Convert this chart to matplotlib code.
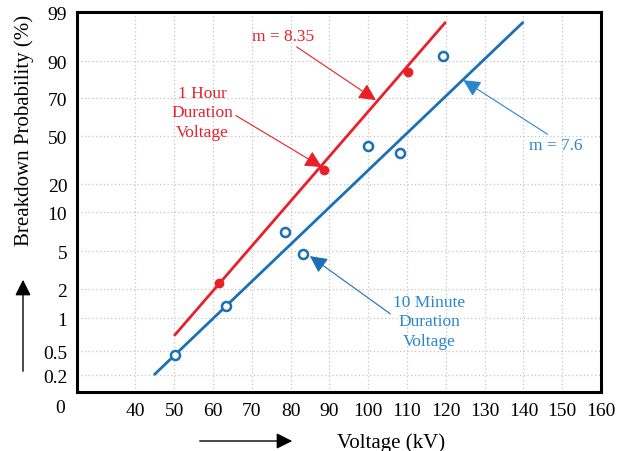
import numpy as np
import matplotlib
matplotlib.use('Agg')
import matplotlib.pyplot as plt

# probability paper: tick value -> position
prob_ticks = [0, 0.2, 0.5, 1, 2, 5, 10, 20, 50, 70, 90, 99]
prob_pos = [0, 32, 56, 89, 118, 156, 195, 223, 271, 309, 346, 395]

volt_ticks = [40, 50, 60, 70, 80, 90, 100, 110, 120, 130, 140, 150, 160]

# 1 hour duration (filled red)
hour_v = [61.6, 88.7, 110.3]
hour_p = [2.45, 28.5, 84]
hour_fit_v = [50, 120]
hour_fit_p = [0.73, 97.2]

# 10 minute duration (open blue)
min_v = [50.3, 63.4, 78.6, 83.2, 100, 108.2, 119.3]
min_p = [0.45, 1.41, 7.4, 4.8, 43.5, 39.4, 90.9]
min_fit_v = [44.8, 140]
min_fit_p = [0.2, 97.2]

red = '#e8202a'
blue = '#1b6fb5'
blue_txt = '#2a86cc'

plt.rcParams['font.family'] = ['Liberation Serif', 'DejaVu Serif']


def fwd(p):
    return np.interp(p, prob_ticks, prob_pos)


def inv(y):
    return np.interp(y, prob_pos, prob_ticks)


fig = plt.figure(figsize=(6.21, 4.52), dpi=100)
ax = fig.add_axes([0.124, 0.1305, 0.844, 0.8405])
ax.set_yscale('function', functions=(fwd, inv))
ax.set_xlim(25, 160)
ax.set_ylim(inv(15), 99)

ax.plot(hour_fit_v, hour_fit_p, color=red, lw=2, solid_capstyle='butt')
ax.plot(min_fit_v, min_fit_p, color=blue, lw=2, solid_capstyle='butt')
ax.plot(hour_v, hour_p, 'o', color=red, ms=6)
ax.plot(min_v, min_p, 'o', mfc='white', mec=blue, mew=1.8, ms=6.5)

ax.set_xticks(volt_ticks)
ax.set_yticks(prob_ticks[1:])
ax.set_yticklabels(['0.2', '0.5', '1', '2', '5', '10', '20', '50', '70', '90', '99'])
ax.tick_params(length=0, labelsize=14, pad=7)
ax.grid(True, color='#c4c4c4', ls=(0, (1, 2)), lw=0.9)
for s in ax.spines.values():
    s.set_linewidth(2.2)
ax.text(-0.022, inv(0), '0', transform=ax.get_yaxis_transform(),
        ha='right', va='center', fontsize=14, clip_on=False)

ax.set_xlabel('Voltage (kV)', fontsize=15)
ax.xaxis.set_label_coords(0.60, -0.105)
ax.set_ylabel('Breakdown Probability (%)', fontsize=15)
ax.yaxis.set_label_coords(-0.083, 0.69)

# annotations
arr = dict(arrowstyle='-|>', lw=0.8, mutation_scale=26, shrinkA=0, shrinkB=0)
ax.annotate('m = 8.35', xy=(102.0, 68.9), xytext=(78.1, 94.6), color=red,
            fontsize=12.5, ha='center', va='center',
            arrowprops=dict(arr, color=red, relpos=(0.65, 0)))
ax.annotate('1 Hour\nDuration\nVoltage', xy=(88.1, 30.6), xytext=(57.2, 62.6),
            color=red, fontsize=12.5, ha='center', va='center', linespacing=1.3,
            arrowprops=dict(arr, color=red, relpos=(1.0, 0.47)))
ax.annotate('m = 7.6', xy=(124.5, 79.7), xytext=(148.4, 44.4), color=blue_txt,
            fontsize=12.5, ha='center', va='center',
            arrowprops=dict(arr, color=blue_txt, relpos=(0.42, 1.0)))
ax.annotate('10 Minute\nDuration\nVoltage', xy=(85.0, 4.6), xytext=(115.7, 0.95),
            color=blue_txt, fontsize=12.5, ha='center', va='center', linespacing=1.3,
            arrowprops=dict(arr, color=blue, relpos=(0.0, 0.6)))

# direction arrows outside the axes
fig.patches.append(matplotlib.patches.FancyArrowPatch(
    (23 / 621, 1 - 375 / 452), (23 / 621, 1 - 278 / 452), transform=fig.transFigure,
    arrowstyle='-|>', mutation_scale=24, lw=1, color='black'))
fig.patches.append(matplotlib.patches.FancyArrowPatch(
    (197 / 621, 1 - 442 / 452), (295 / 621, 1 - 442 / 452), transform=fig.transFigure,
    arrowstyle='-|>', mutation_scale=24, lw=1, color='black'))

fig.savefig('out.png', dpi=100)
